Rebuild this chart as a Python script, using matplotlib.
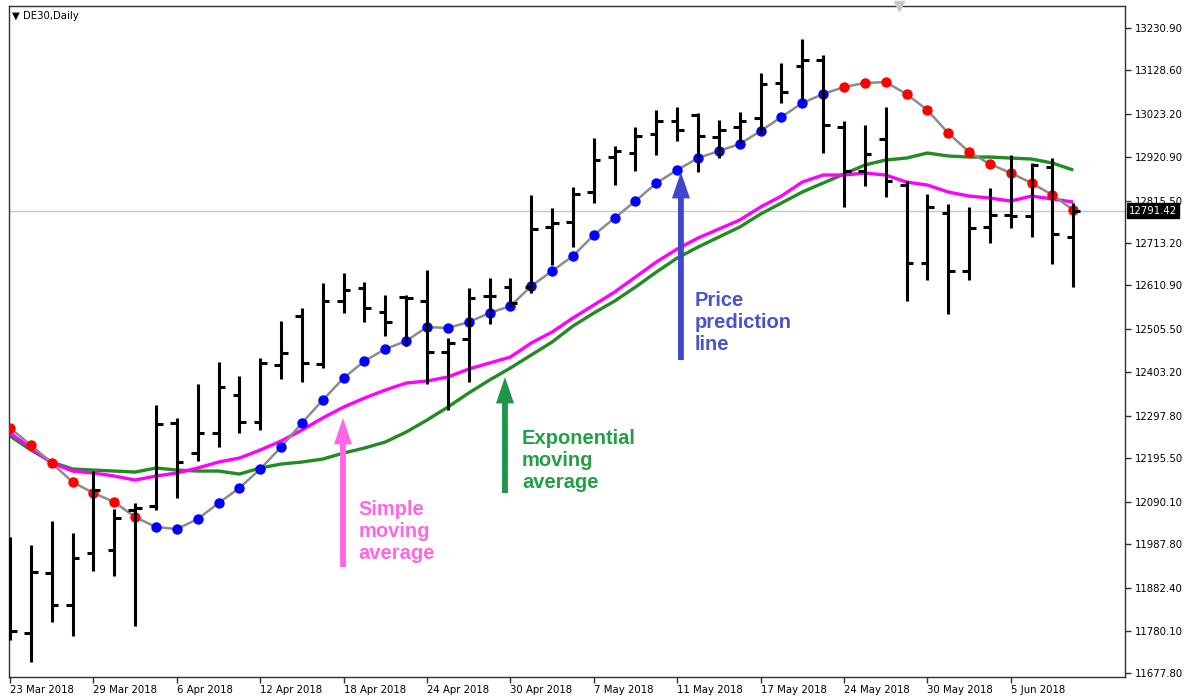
import numpy as np
import matplotlib.pyplot as plt

# DE30 daily bars, 23 Mar 2018 .. 8 Jun 2018
date_labels = ['23 Mar 2018', '29 Mar 2018', '6 Apr 2018', '12 Apr 2018', '18 Apr 2018',
               '24 Apr 2018', '30 Apr 2018', '7 May 2018', '11 May 2018', '17 May 2018',
               '24 May 2018', '30 May 2018', '5 Jun 2018']
date_bars = [0, 4, 8, 12, 16, 20, 24, 28, 32, 36, 40, 44, 48]

opens = [11853.5, 11774.0, 11918.5, 11841.5, 11966.7, 11973.9, 12070.0, 12079.9, 12279.7, 12207.5,
         12255.6, 12347.1, 12282.1, 12419.4, 12537.4, 12421.8, 12573.5, 12604.8, 12547.0, 12583.1,
         12573.5, 12450.7, 12482.0, 12585.5, 12607.2, 12607.2, 12751.7, 12763.7, 12836.0, 12920.2,
         12929.9, 12975.6, 13006.9, 13021.4, 12968.4, 12992.5, 13014.2, 13098.4, 13139.4, 13153.8,
         12992.5, 12886.5, 12963.6, 12852.8, 12665.0, 12785.4, 12645.7, 12751.7, 12780.6, 12778.2,
         12896.2, 12727.6]
highs = [12005.2, 11985.9, 12043.7, 12014.8, 12164.1, 12072.6, 12087.1, 12323.1, 12291.8, 12373.6,
         12426.6, 12392.9, 12436.2, 12525.3, 12556.6, 12616.8, 12640.9, 12619.2, 12587.9, 12587.9,
         12648.1, 12484.4, 12604.8, 12628.9, 12628.9, 12828.7, 12797.4, 12848.0, 12966.0, 12946.7,
         12992.5, 13033.4, 13040.6, 13026.2, 13009.3, 13028.6, 13122.5, 13146.6, 13204.4, 13165.9,
         13006.9, 12997.3, 13040.6, 12862.5, 12831.1, 12807.1, 12799.8, 12845.6, 12925.1, 12905.8,
         12917.8, 12809.5]
lows = [11757.2, 11704.2, 11800.5, 11766.8, 11923.3, 11911.3, 11790.9, 12070.2, 12099.1, 12188.2,
        12221.9, 12255.6, 12262.9, 12385.7, 12378.4, 12412.2, 12544.6, 12522.9, 12489.2, 12465.1,
        12373.6, 12311.0, 12378.4, 12518.1, 12559.0, 12592.8, 12660.2, 12703.5, 12809.5, 12852.8,
        12886.5, 12925.1, 12958.8, 12884.1, 12917.8, 12951.5, 12978.0, 13050.3, 13057.5, 12929.9,
        12799.8, 12850.4, 12823.9, 12573.5, 12624.1, 12542.2, 12624.1, 12713.2, 12749.3, 12727.6,
        12662.6, 12607.2]
closes = [11778.9, 11920.9, 11841.5, 11954.6, 12118.4, 12051.0, 12075.0, 12277.3, 12185.8, 12255.6,
          12366.4, 12282.1, 12424.2, 12448.3, 12424.2, 12573.5, 12600.0, 12556.6, 12522.9, 12580.7,
          12450.7, 12472.4, 12580.7, 12585.5, 12568.7, 12746.9, 12761.3, 12831.1, 12913.0, 12934.7,
          12970.8, 13006.9, 12985.3, 12970.8, 12985.3, 13006.9, 13096.0, 13076.8, 13153.8, 12997.3,
          12886.5, 12927.5, 12862.5, 12665.0, 12799.8, 12645.7, 12749.3, 12780.6, 12778.2, 12901.0,
          12734.8, 12791.4]

# price prediction line and its trend state
pred = [12267.7, 12226.7, 12183.4, 12137.6, 12111.2, 12089.5, 12053.4, 12029.3, 12024.5, 12048.5,
        12087.1, 12123.2, 12168.9, 12221.9, 12279.7, 12335.1, 12388.1, 12429.0, 12457.9, 12477.2,
        12510.9, 12508.5, 12522.9, 12544.6, 12561.5, 12609.6, 12645.7, 12681.9, 12732.4, 12773.4,
        12814.3, 12857.6, 12888.9, 12917.8, 12934.7, 12951.5, 12982.9, 13016.6, 13050.3, 13071.9,
        13088.8, 13098.4, 13100.8, 13071.9, 13033.4, 12978.0, 12932.3, 12903.4, 12881.7, 12857.6,
        12828.7, 12792.6]
pred_trend = ['down'] * 7 + ['up'] * 33 + ['down'] * 12

sma = [12255.6, 12219.5, 12183.4, 12164.1, 12159.3, 12152.1, 12142.5, 12152.1, 12159.3, 12171.4,
       12185.8, 12195.4, 12214.7, 12236.4, 12262.9, 12291.8, 12318.2, 12339.9, 12359.2, 12376.0,
       12380.9, 12390.5, 12409.7, 12424.2, 12438.6, 12472.4, 12498.8, 12532.6, 12563.9, 12595.2,
       12631.3, 12667.4, 12698.7, 12725.2, 12746.9, 12768.5, 12799.8, 12826.3, 12860.0, 12876.9,
       12876.9, 12881.7, 12876.9, 12860.0, 12852.8, 12836.0, 12826.3, 12821.5, 12814.3, 12826.3,
       12819.1, 12811.9]
ema = [12248.4, 12214.7, 12185.8, 12169.0, 12166.5, 12164.1, 12161.7, 12171.4, 12166.5, 12164.1,
       12164.1, 12156.9, 12171.4, 12181.0, 12185.8, 12193.0, 12207.5, 12219.5, 12234.0, 12258.0,
       12286.9, 12318.2, 12352.0, 12383.3, 12412.2, 12443.5, 12474.8, 12513.3, 12544.6, 12573.5,
       12607.2, 12643.3, 12677.0, 12703.5, 12727.6, 12751.7, 12783.0, 12809.5, 12836.0, 12857.6,
       12879.3, 12901.0, 12913.0, 12917.8, 12929.9, 12922.7, 12920.2, 12920.2, 12917.8, 12915.4,
       12905.8, 12888.9]

last_price = 12791.42
price_ticks = [11677.8, 11780.1, 11882.4, 11987.8, 12090.1, 12195.5, 12297.8, 12403.2,
               12505.5, 12610.9, 12713.2, 12815.5, 12920.9, 13023.2, 13128.6, 13230.9]

fig = plt.figure(figsize=(11.89, 7.0), dpi=100)
ax = fig.add_axes([9 / 1189, 23 / 700, 1116 / 1189, 671 / 700])
x = np.arange(len(closes))

# reference line at the last price
ax.axhline(last_price, color='#c8c8c8', lw=1, zorder=1)

# moving averages
ax.plot(x, ema, color='#228b22', lw=2.4, zorder=2, solid_capstyle='butt')
ax.plot(x, sma, color='#ff00ff', lw=2.4, zorder=2.5, solid_capstyle='butt')

# prediction line with coloured dots
ax.plot(x, pred, color='#8c8c8c', lw=1.8, zorder=3)
pred = np.array(pred)
trend = np.array(pred_trend)
ax.plot(x[trend == 'down'], pred[trend == 'down'], 'o', color='#ff0000', ms=7.5, mew=0, zorder=4)
ax.plot(x[trend == 'up'], pred[trend == 'up'], 'o', color='#0000ff', ms=7.5, mew=0, zorder=4)

# OHLC bars
ax.vlines(x, lows, highs, color='black', lw=2.2, zorder=5)
ax.hlines(opens, x - 0.32, x, color='black', lw=2.2, zorder=5)
ax.hlines(closes, x, x + 0.32, color='black', lw=2.2, zorder=5)

ax.set_xlim(-0.05, 53.48)
ax.set_ylim(11668.2, 13283.9)

# axes styling
for s in ax.spines.values():
    s.set_color('#303030')
    s.set_linewidth(1)
ax.yaxis.tick_right()
ax.set_yticks(price_ticks)
ax.set_yticklabels([f'{v:.2f}' for v in price_ticks])
ax.set_xticks(date_bars)
ax.set_xticklabels(date_labels, ha='left')
ax.tick_params(axis='both', direction='out', length=4, width=1, color='#303030',
               labelsize=7.3, labelcolor='black')
ax.tick_params(axis='x', pad=2)
ax.tick_params(axis='y', pad=3)
for lbl in ax.get_xticklabels():
    lbl.set_x(lbl.get_position()[0])

# last price label
ax.annotate(f'{last_price:.2f}', xy=(1, last_price), xycoords=ax.get_yaxis_transform(),
            xytext=(3, 0), textcoords='offset points', ha='left', va='center',
            fontsize=7.3, color='white',
            bbox=dict(boxstyle='square,pad=0.2', fc='black', ec='black'), zorder=10)

# symbol title and shift marker
ax.text(0.003, 0.985, '\u25bc DE30,Daily', transform=ax.transAxes, fontsize=7.3,
        ha='left', va='center')
ax.plot([42.65], [13283.9], marker='v', color='#c8c8c8', ms=7, clip_on=False, zorder=6)

# annotations
arrow = 'simple,head_length=1.9,head_width=1.3,tail_width=0.42'
notes = [
    ('Simple\nmoving\naverage', '#ff66e6', '#ff66e6', 15.97, 12291.8, 11933.0, 16.7, 12019.7),
    ('Exponential\nmoving\naverage', '#1e9646', '#22a046', 23.74, 12390.5, 12111.2, 24.56, 12190.7),
    ('Price\nprediction\nline', '#3f48cc', '#4a52cf', 32.18, 12884.1, 12431.4, 32.85, 12520.6),
]
for txt, acol, tcol, ax_x, tip, tail, tx, ty in notes:
    ax.annotate('', xy=(ax_x, tip), xytext=(ax_x, tail),
                arrowprops=dict(arrowstyle=arrow, color=acol, shrinkA=0, shrinkB=0,
                                mutation_scale=10, lw=0), zorder=6)
    ax.text(tx, ty, txt, color=tcol, fontsize=14.5, fontweight='bold',
            family='Liberation Sans', ha='left', va='center', linespacing=1.2, zorder=6)

fig.savefig('out.png', dpi=100)
